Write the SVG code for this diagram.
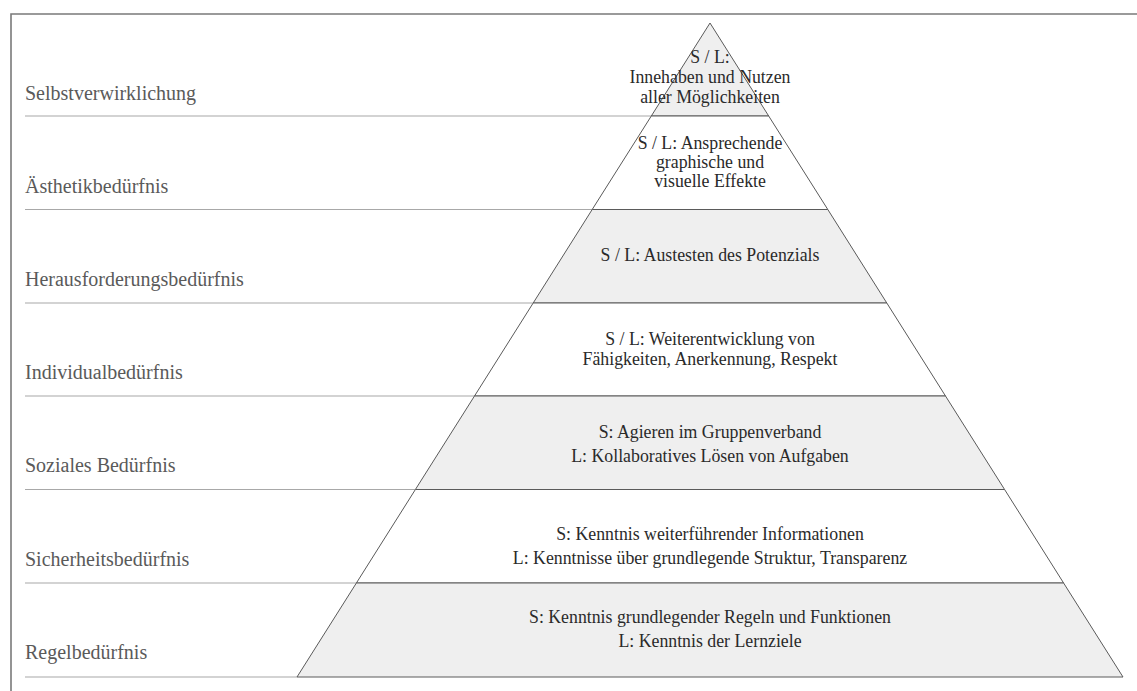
<svg xmlns="http://www.w3.org/2000/svg" width="1137" height="691" viewBox="0 0 1137 691">
  <style>
    .frame { fill: none; stroke: #7a7a7a; stroke-width: 1.6; }
    .guide { stroke: #a8a8a8; stroke-width: 1.2; }
    .band { stroke: #5a5a5a; stroke-width: 1; }
    .grey { fill: #efefef; }
    .white { fill: #ffffff; }
    text { font-family: "Liberation Serif", "Times New Roman", serif; }
    .label { font-size: 20px; fill: #5a5a5a; }
    .txt { font-size: 17.8px; fill: #2a2a2a; text-anchor: middle; }
  </style>
  <rect width="1137" height="691" fill="#ffffff"/>

  <!-- outer frame: top and left edges -->
  <path class="frame" d="M11,691 V14 H1137"/>

  <!-- guide lines from the labels to the pyramid -->
  <g id="connectors">
    <line class="guide" x1="25" y1="116" x2="651.3" y2="116"/>
    <line class="guide" x1="25" y1="209.5" x2="592.2" y2="209.5"/>
    <line class="guide" x1="25" y1="303" x2="533.2" y2="303"/>
    <line class="guide" x1="25" y1="396" x2="474.5" y2="396"/>
    <line class="guide" x1="25" y1="489.5" x2="415.4" y2="489.5"/>
    <line class="guide" x1="25" y1="583" x2="356.4" y2="583"/>
    <line class="guide" x1="25" y1="677" x2="297" y2="677"/>
  </g>

  <!-- pyramid levels, top to bottom -->
  <g id="level-selbstverwirklichung">
    <polygon class="band grey" points="710,23 768.7,116 651.3,116"/>
    <text class="label" x="25" y="100">Selbstverwirklichung</text>
    <text class="txt" x="710" y="63">S / L:</text>
    <text class="txt" x="710" y="83">Innehaben und Nutzen</text>
    <text class="txt" x="710" y="103">aller Möglichkeiten</text>
  </g>

  <g id="level-aesthetik">
    <polygon class="band white" points="651.3,116 768.7,116 827.8,209.5 592.2,209.5"/>
    <text class="label" x="25" y="193">Ästhetikbedürfnis</text>
    <text class="txt" x="710" y="149">S / L: Ansprechende</text>
    <text class="txt" x="710" y="168">graphische und</text>
    <text class="txt" x="710" y="187">visuelle Effekte</text>
  </g>

  <g id="level-herausforderung">
    <polygon class="band grey" points="592.2,209.5 827.8,209.5 886.8,303 533.2,303"/>
    <text class="label" x="25" y="286">Herausforderungsbedürfnis</text>
    <text class="txt" x="710" y="261">S / L: Austesten des Potenzials</text>
  </g>

  <g id="level-individual">
    <polygon class="band white" points="533.2,303 886.8,303 945.5,396 474.5,396"/>
    <text class="label" x="25" y="379">Individualbedürfnis</text>
    <text class="txt" x="710" y="345">S / L: Weiterentwicklung von</text>
    <text class="txt" x="710" y="365">Fähigkeiten, Anerkennung, Respekt</text>
  </g>

  <g id="level-sozial">
    <polygon class="band grey" points="474.5,396 945.5,396 1004.6,489.5 415.4,489.5"/>
    <text class="label" x="25" y="472">Soziales Bedürfnis</text>
    <text class="txt" x="710" y="438">S: Agieren im Gruppenverband</text>
    <text class="txt" x="710" y="462">L: Kollaboratives Lösen von Aufgaben</text>
  </g>

  <g id="level-sicherheit">
    <polygon class="band white" points="415.4,489.5 1004.6,489.5 1063.6,583 356.4,583"/>
    <text class="label" x="25" y="566">Sicherheitsbedürfnis</text>
    <text class="txt" x="710" y="540">S: Kenntnis weiterführender Informationen</text>
    <text class="txt" x="710" y="564">L: Kenntnisse über grundlegende Struktur, Transparenz</text>
  </g>

  <g id="level-regel">
    <polygon class="band grey" points="356.4,583 1063.6,583 1123,677 297,677"/>
    <text class="label" x="25" y="659">Regelbedürfnis</text>
    <text class="txt" x="710" y="623">S: Kenntnis grundlegender Regeln und Funktionen</text>
    <text class="txt" x="710" y="647">L: Kenntnis der Lernziele</text>
  </g>
</svg>
